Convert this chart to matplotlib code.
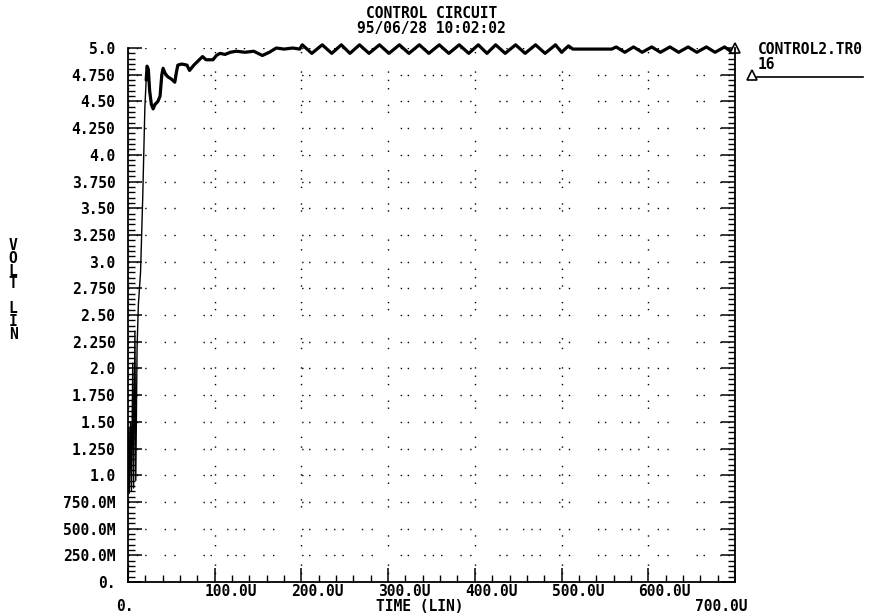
import matplotlib
matplotlib.use('Agg')
import matplotlib.pyplot as plt
from matplotlib.ticker import MultipleLocator, FixedLocator
from matplotlib.transforms import offset_copy
from matplotlib.lines import Line2D

FONT = 'DejaVu Sans Mono'
FS = 10.5
FW = 'bold'

# time in microseconds, voltage in volts
start_t = [0, 0.7, 1.5, 3, 4, 5.5, 6.5, 8, 9, 10.5, 12, 14.5, 17, 19.5, 21]
start_v = [0.85, 1.45, 0.83, 1.5, 0.85, 2.05, 0.88, 2.35, 0.95, 2.2, 2.6, 2.9, 3.6, 4.45, 4.7]

settle_t = [21, 22, 23.5, 25, 27, 29, 31, 34.5, 37, 39, 40.5, 43, 46, 50, 54, 56, 57.5,
            62, 68, 71, 76, 81, 86, 90, 95, 98, 102, 106, 112, 118, 125, 135, 145,
            155, 163, 171, 180, 190, 198]
settle_v = [4.7, 4.83, 4.8, 4.6, 4.47, 4.43, 4.47, 4.5, 4.55, 4.75, 4.81, 4.76, 4.73,
            4.71, 4.68, 4.78, 4.84, 4.85, 4.84, 4.79, 4.84, 4.88, 4.92, 4.89, 4.89,
            4.89, 4.93, 4.95, 4.94, 4.96, 4.97, 4.96, 4.97, 4.93, 4.96, 5.0, 4.99,
            5.0, 4.99]

ripple_t = [201, 212, 224, 235, 246, 256, 267, 278, 290, 301, 313, 324, 336, 347, 359,
            370, 382, 393, 404, 414, 424, 435, 447, 458, 470, 481, 493, 500, 508, 513,
            535, 558, 563, 573, 583, 593, 604, 614, 625, 635, 646, 656, 667, 677, 688,
            695, 700]
ripple_v = [5.03, 4.95, 5.03, 4.95, 5.03, 4.95, 5.03, 4.95, 5.03, 4.95, 5.03, 4.95,
            5.03, 4.95, 5.03, 4.95, 5.03, 4.95, 5.03, 4.95, 5.03, 4.95, 5.03, 4.95,
            5.03, 4.95, 5.03, 4.96, 5.02, 4.99, 4.99, 4.99, 5.01, 4.96, 5.01, 4.96,
            5.01, 4.96, 5.01, 4.96, 5.01, 4.96, 5.01, 4.96, 5.01, 4.97, 5.0]

volt_ticks = [0, 0.25, 0.5, 0.75, 1.0, 1.25, 1.5, 1.75, 2.0, 2.25, 2.5, 2.75, 3.0,
              3.25, 3.5, 3.75, 4.0, 4.25, 4.5, 4.75, 5.0]
volt_labels = ['0.', '250.0M', '500.0M', '750.0M', '1.0', '1.250', '1.50', '1.750',
               '2.0', '2.250', '2.50', '2.750', '3.0', '3.250', '3.50', '3.750',
               '4.0', '4.250', '4.50', '4.750', '5.0']
time_ticks = [100, 200, 300, 400, 500, 600]
time_labels = ['100.0U', '200.0U', '300.0U', '400.0U', '500.0U', '600.0U']

fig = plt.figure(figsize=(8.82, 6.14), dpi=100)
ax = fig.add_axes([0.1451, 0.0521, 0.6882, 0.8697])

ax.plot(start_t, start_v, color='black', lw=1.0)
ax.plot(settle_t + ripple_t, settle_v + ripple_v, color='black', lw=2.3,
        clip_on=False, solid_joinstyle='round', solid_capstyle='round')
ax.plot([ripple_t[-1]], [ripple_v[-1]], marker='^', ms=7, mfc='white', mec='black',
        mew=1.2, clip_on=False)

ax.set_xlim(0, 700)
ax.set_ylim(0, 5.0)
ax.yaxis.set_major_locator(FixedLocator(volt_ticks))
ax.set_yticklabels(volt_labels)
ax.yaxis.set_minor_locator(MultipleLocator(0.05))
ax.xaxis.set_major_locator(MultipleLocator(100))
ax.xaxis.set_minor_locator(MultipleLocator(20))
ax.tick_params(which='both', direction='in', left=True, right=True, top=False, bottom=True)
ax.tick_params(which='major', length=10, width=1.1)
ax.tick_params(which='minor', length=5, width=1.0)
ax.tick_params(axis='x', labelbottom=False)
ax.tick_params(axis='y', labelsize=FS, pad=9)
for lab in ax.get_yticklabels():
    lab.set_fontfamily(FONT)
    lab.set_fontweight(FW)

ax.spines['top'].set_visible(False)
for s in ['left', 'right', 'bottom']:
    ax.spines[s].set_linewidth(1.3)

# sparse, uneven plotter dots
ax.grid(True, which='major', color='black', lw=1.0,
        linestyle=(0, (1, 5, 1, 5, 1, 13, 1, 6, 1, 20, 1, 4, 1, 11)))

txt = dict(family=FONT, fontsize=FS, fontweight=FW)
tr = ax.get_xaxis_transform()
for t, lab in zip(time_ticks, time_labels):
    ax.text(t, 0, lab, transform=offset_copy(tr, fig=fig, x=-10, y=-9, units='dots'),
            ha='left', va='center', **txt)
ax.text(0, 0, '0.', transform=offset_copy(tr, fig=fig, x=-3, y=-24, units='dots'),
        ha='center', va='center', **txt)
ax.text(700, 0, '700.0U', transform=offset_copy(tr, fig=fig, x=-40, y=-24, units='dots'),
        ha='left', va='center', **txt)
ax.text(0.481, 0, 'TIME (LIN)',
        transform=offset_copy(ax.transAxes, fig=fig, x=0, y=-24, units='dots'),
        ha='center', va='center', **txt)

fig.text(431.5 / 882, 1 - 21 / 614, 'CONTROL CIRCUIT\n95/06/28 10:02:02', ha='center',
         va='center', linespacing=0.95, **txt)
fig.text(13 / 882, 1 - 290 / 614, 'V\nO\nL\nT\n\nL\nI\nN', ha='center', va='center',
         linespacing=0.8, **txt)

# legend entry at the right
fig.text(758 / 882, 1 - 57 / 614, 'CONTROL2.TR0\n16', ha='left', va='center',
         linespacing=0.95, **txt)
fig.add_artist(Line2D([752 / 882, 863 / 882], [1 - 77 / 614, 1 - 77 / 614],
                      color='black', lw=1.2))
fig.add_artist(Line2D([752 / 882], [1 - 75 / 614], marker='^', ms=7, mfc='white',
                      mec='black', mew=1.2))

fig.savefig('out.png', dpi=100)
